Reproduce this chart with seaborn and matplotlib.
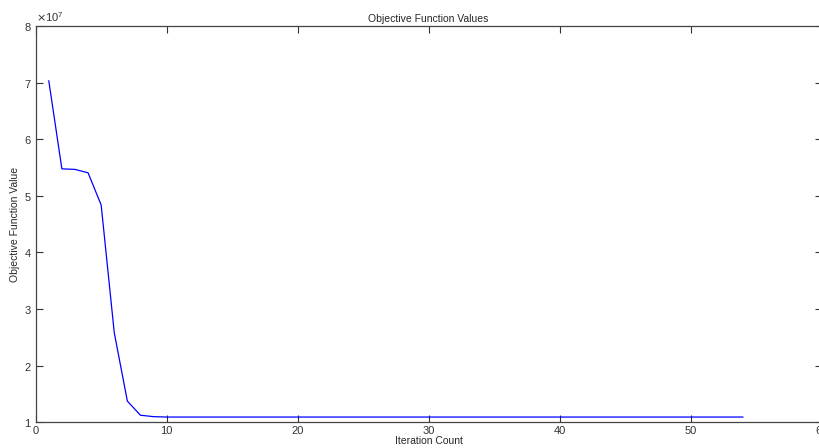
import matplotlib
matplotlib.use("Agg")
import matplotlib.pyplot as plt
import seaborn as sns
import pandas as pd

iterations = list(range(1, 55))
values_head = [7.04e7, 5.48e7, 5.47e7, 5.41e7, 4.84e7, 2.58e7, 1.37e7, 1.12e7, 1.095e7]
values_tail = [1.088e7] * (54 - len(values_head))
values = values_head + values_tail

x_ticks = [0, 10, 20, 30, 40, 50, 60]
y_ticks = [1e7, 2e7, 3e7, 4e7, 5e7, 6e7, 7e7, 8e7]

sns.set_theme(style="ticks")
plt.rcParams['font.family'] = ['Liberation Sans', 'DejaVu Sans']

df = pd.DataFrame({"Iteration Count": iterations, "Objective Function Value": values})

fig = plt.figure(figsize=(8.2, 4.48), dpi=100)
ax = fig.add_axes([0.0435, 0.058, 0.9585, 0.883])
sns.lineplot(data=df, x="Iteration Count", y="Objective Function Value", ax=ax,
             color=(0, 0, 1), linewidth=0.9)
ax.set_xlim(0, 60)
ax.set_ylim(1e7, 8e7)
ax.set_xticks(x_ticks)
ax.set_yticks(y_ticks)
ax.ticklabel_format(axis="y", style="sci", scilimits=(7, 7), useMathText=True)
ax.tick_params(direction="in", length=5, width=0.8, colors="#333333", labelsize=8,
               top=True, right=True, pad=3)
for s in ax.spines.values():
    s.set_color("#444444")
    s.set_linewidth(0.9)
ax.yaxis.get_offset_text().set_fontsize(8)
ax.set_title("Objective Function Values", fontsize=7.5, pad=3)
ax.set_xlabel("Iteration Count", fontsize=7.5, labelpad=0)
ax.set_ylabel("Objective Function Value", fontsize=7.5, labelpad=3)
fig.savefig("out.png", dpi=100)
